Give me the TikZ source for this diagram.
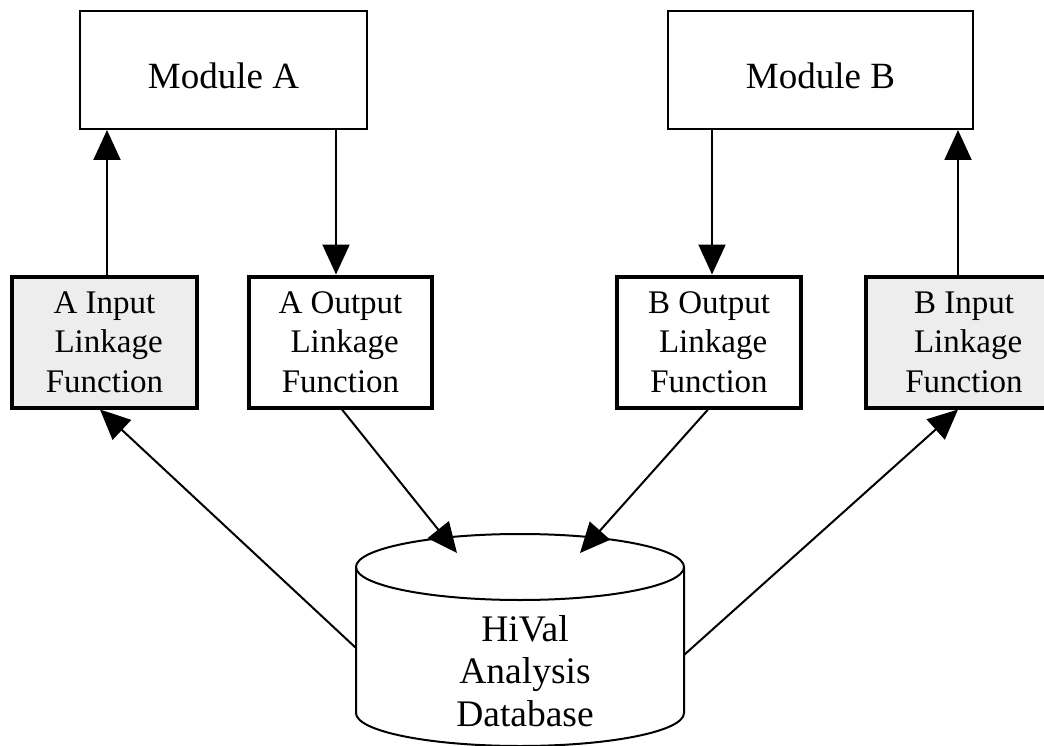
\documentclass[tikz,border=0pt]{standalone}
\usepackage{fontspec}
\setmainfont{Liberation Serif}
\usetikzlibrary{arrows.meta}
\begin{document}
\begin{tikzpicture}[x=1pt,y=1pt,
  modbox/.style={draw,line width=2pt,minimum width=#1,minimum height=118pt,inner sep=0pt,
    font=\fontsize{37}{44}\selectfont,text height=37pt,text depth=0pt},
  linkbox/.style={draw,line width=4pt,minimum width=#1,minimum height=131pt,inner sep=0pt,
    align=center,font=\fontsize{33}{39.5}\selectfont},
  infill/.style={fill=black!7},
  arr/.style={line width=2pt,-{Triangle[length=30pt,width=27pt]}},
  dbline/.style={line width=2pt}]
\useasboundingbox (0,0) rectangle (1044,-746);
\clip (0,0) rectangle (1044,-746);
\fill[white] (0,0) rectangle (1044,-746);

% modules
\node[modbox=287pt] (ma) at (223.5,-70) {Module A};
\node[modbox=305pt] (mb) at (820.5,-70) {Module B};

% linkage boxes
\node[linkbox=185pt,infill] (ain) at (104.5,-342) {A Input\\\hspace*{.25em}Linkage\\Function};
\node[linkbox=183pt] (aout) at (340.5,-342) {A Output\\\hspace*{.25em}Linkage\\Function};
\node[linkbox=184pt] (bout) at (709,-342) {B Output\\\hspace*{.25em}Linkage\\Function};
\node[linkbox=196pt,infill] (bin) at (964,-342) {B Input\\\hspace*{.25em}Linkage\\Function};

% database cylinder
\draw[dbline,fill=white] (356,-567) -- (356,-713) arc[start angle=180,end angle=360,x radius=164,y radius=33] -- (684,-567);
\draw[dbline] (520,-567) ellipse[x radius=164,y radius=33];
\node[align=center,font=\fontsize{37.5}{42.5}\selectfont,inner sep=0pt] (db) at (525,-671) {HiVal\\Analysis\\Database};

% connection points
\coordinate (dbTopL) at (457,-553);
\coordinate (dbTopR) at (580,-553);
\coordinate (dbSideL) at (356,-648);
\coordinate (dbSideR) at (684,-655);

% vertical arrows
\draw[arr] (ain.north -| 107,0) -- (ma.south -| 107,0);
\draw[arr] (ma.south -| 336,0) -- (aout.north -| 336,0);
\draw[arr] (mb.south -| 712,0) -- (bout.north -| 712,0);
\draw[arr] (bin.north -| 958,0) -- (mb.south -| 958,0);

% diagonal arrows
\draw[arr] (aout.south -| 342,0) -- (dbTopL);
\draw[arr] (bout.south -| 708,0) -- (dbTopR);
\draw[arr] (dbSideL) -- (ain.south -| 100,0);
\draw[arr] (dbSideR) -- (bin.south -| 958,0);
\end{tikzpicture}
\end{document}
